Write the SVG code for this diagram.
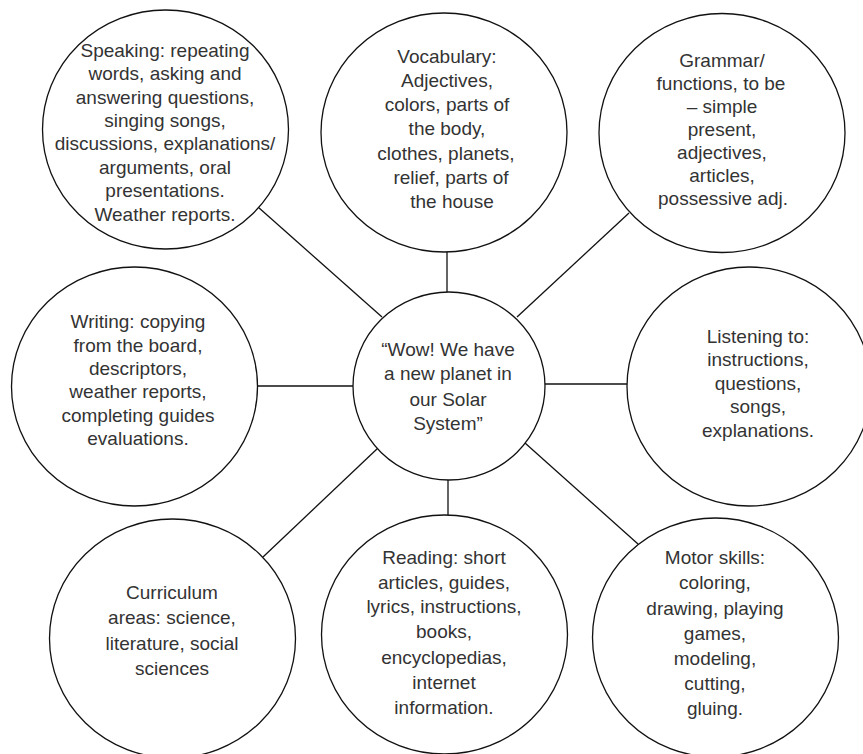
<svg xmlns="http://www.w3.org/2000/svg" width="863" height="754" viewBox="0 0 863 754">
<style>
.n{fill:#fff;stroke:#111;stroke-width:1.3}
.c line{stroke:#111;stroke-width:1.3}
text{font-family:"Liberation Sans","DejaVu Sans",sans-serif;font-size:19px;fill:#333;text-anchor:middle}
</style>
<rect width="863" height="754" fill="#fff"/>
<g class="c" id="connectors">
<line x1="447" y1="252" x2="447" y2="292"/>
<line x1="448" y1="480" x2="448" y2="515"/>
<line x1="257" y1="386" x2="353" y2="386"/>
<line x1="545" y1="384" x2="627" y2="384"/>
<line x1="258" y1="207" x2="382" y2="317"/>
<line x1="629" y1="213" x2="517" y2="317"/>
<line x1="263" y1="557" x2="378" y2="448"/>
<line x1="638" y1="544" x2="525" y2="443"/>
</g>
<g id="speaking">
<ellipse class="n" cx="165.5" cy="129.5" rx="123" ry="119.5"/>
<text x="165"><tspan y="57">Speaking: repeating</tspan><tspan x="165" y="80">words, asking and</tspan><tspan x="165" y="104">answering questions,</tspan><tspan x="165" y="127">singing songs,</tspan><tspan x="165" y="150">discussions, explanations/</tspan><tspan x="165" y="174">arguments, oral</tspan><tspan x="165" y="197">presentations.</tspan><tspan x="165" y="221">Weather reports.</tspan></text>
</g>
<g id="vocabulary">
<ellipse class="n" cx="444" cy="132.5" rx="123" ry="119.5"/>
<text x="447"><tspan y="63">Vocabulary:</tspan><tspan x="447" y="87">Adjectives,</tspan><tspan x="447" y="111">colors, parts of</tspan><tspan x="447" y="135">the body,</tspan><tspan x="446" y="160">clothes, planets,</tspan><tspan x="451" y="184">relief, parts of</tspan><tspan x="452" y="208">the house</tspan></text>
</g>
<g id="grammar">
<ellipse class="n" cx="722" cy="133" rx="123" ry="119.5"/>
<text x="722"><tspan y="67">Grammar/</tspan><tspan x="721" y="90">functions, to be</tspan><tspan x="722" y="113">– simple</tspan><tspan x="722" y="136">present,</tspan><tspan x="722" y="159">adjectives,</tspan><tspan x="722" y="182">articles,</tspan><tspan x="723" y="205">possessive adj.</tspan></text>
</g>
<g id="writing">
<ellipse class="n" cx="134.5" cy="386.5" rx="123" ry="119.5"/>
<text x="138"><tspan y="328">Writing: copying</tspan><tspan x="138" y="352">from the board,</tspan><tspan x="138" y="375">descriptors,</tspan><tspan x="138" y="398">weather reports,</tspan><tspan x="138" y="422">completing guides</tspan><tspan x="138" y="445">evaluations.</tspan></text>
</g>
<g id="center">
<ellipse class="n" cx="449" cy="386" rx="96" ry="94"/>
<text x="448"><tspan y="356">“Wow! We have</tspan><tspan x="448" y="380">a new planet in</tspan><tspan x="448" y="406">our Solar</tspan><tspan x="448" y="430">System”</tspan></text>
</g>
<g id="listening">
<ellipse class="n" cx="749" cy="386.5" rx="122" ry="119.5"/>
<text x="758"><tspan y="343">Listening to:</tspan><tspan x="758" y="366">instructions,</tspan><tspan x="758" y="390">questions,</tspan><tspan x="758" y="413">songs,</tspan><tspan x="758" y="437">explanations.</tspan></text>
</g>
<g id="curriculum">
<ellipse class="n" cx="172.5" cy="638.5" rx="123" ry="119.5"/>
<text x="172"><tspan y="599">Curriculum</tspan><tspan x="172" y="624">areas: science,</tspan><tspan x="172" y="650">literature, social</tspan><tspan x="172" y="675">sciences</tspan></text>
</g>
<g id="reading">
<ellipse class="n" cx="444.5" cy="634.5" rx="123" ry="119.5"/>
<text x="444"><tspan y="564">Reading: short</tspan><tspan x="444" y="589">articles, guides,</tspan><tspan x="444" y="613">lyrics, instructions,</tspan><tspan x="444" y="638">books,</tspan><tspan x="444" y="664">encyclopedias,</tspan><tspan x="444" y="689">internet</tspan><tspan x="444" y="714">information.</tspan></text>
</g>
<g id="motor">
<ellipse class="n" cx="715.5" cy="637.5" rx="123" ry="119.5"/>
<text x="715"><tspan y="564">Motor skills:</tspan><tspan x="715" y="589">coloring,</tspan><tspan x="715" y="615">drawing, playing</tspan><tspan x="715" y="640">games,</tspan><tspan x="715" y="665">modeling,</tspan><tspan x="715" y="690">cutting,</tspan><tspan x="715" y="715">gluing.</tspan></text>
</g>
</svg>
